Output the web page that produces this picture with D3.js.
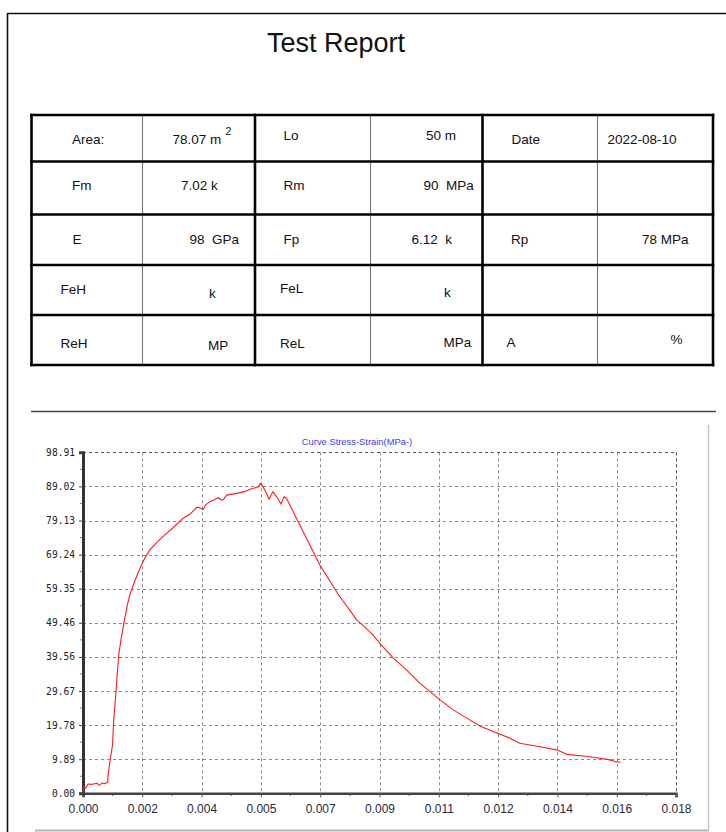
<!DOCTYPE html>
<html>
<head>
<meta charset="utf-8">
<script src="https://cdn.jsdelivr.net/npm/d3@7"></script>
<style>
  html, body { margin: 0; padding: 0; background: #fff; }
  svg { display: block; }
</style>
</head>
<body>
<svg id="page" width="726" height="832"></svg>
<script>
// ---- Report fields (label / value pairs, row by row) ----
const rowLabels1 = ["Area:", "Fm", "E", "FeH", "ReH"];
const rowValues1 = ["78.07 m", "7.02 k", "98  GPa", "k", "MP"];
const rowLabels2 = ["Lo", "Rm", "Fp", "FeL", "ReL"];
const rowValues2 = ["50 m", "90  MPa", "6.12  k", "k", "MPa"];
const rowLabels3 = ["Date", "", "Rp", "", "A"];
const rowValues3 = ["2022-08-10", "", "78 MPa", "", "%"];

// ---- Stress-strain curve ----
const strain = [
  0.00000, 0.00003, 0.00008, 0.00016, 0.00028, 0.00042, 0.00050, 0.00058, 0.00066, 0.00075,
  0.00076, 0.00080, 0.00084, 0.00088, 0.00090, 0.00092, 0.00094, 0.00099, 0.00104, 0.00109,
  0.00117, 0.00127, 0.00135, 0.00143, 0.00158, 0.00173, 0.00188, 0.00203, 0.00224, 0.00244,
  0.00274, 0.00304, 0.00325, 0.00345, 0.00350, 0.00365, 0.00372, 0.00385, 0.00400, 0.00411,
  0.00420, 0.00426, 0.00436, 0.00466, 0.00490, 0.00507, 0.00532, 0.00539, 0.00552, 0.00565,
  0.00576, 0.00588, 0.00601, 0.00610, 0.00618, 0.00719, 0.00774, 0.00831, 0.00876, 0.00901,
  0.00942, 0.00982, 0.01023, 0.01053, 0.01084, 0.01124, 0.01165, 0.01205, 0.01245, 0.01296,
  0.01326, 0.01387, 0.01438, 0.01468, 0.01519, 0.01559, 0.01599, 0.01615, 0.01632
];
const stress = [
  0.0, 1.9, 1.5, 2.7, 2.6, 2.9, 2.3, 3.0, 2.8, 3.2,
  5.0, 8.0, 10.6, 13.0, 14.5, 19.0, 22.2, 28.0, 34.8, 40.6,
  45.5, 50.8, 54.8, 57.8, 61.8, 65.3, 68.3, 70.6, 72.8, 74.6,
  77.1, 79.8, 81.0, 82.9, 83.0, 82.3, 83.6, 84.6, 85.2, 85.8,
  85.0, 85.2, 86.5, 87.0, 87.5, 88.2, 88.9, 89.9, 88.0, 85.3,
  87.5, 86.0, 83.9, 86.0, 85.5, 66.2, 57.8, 50.3, 46.4, 43.5,
  39.2, 35.8, 31.9, 29.5, 27.1, 24.2, 21.8, 19.5, 17.9, 16.0,
  14.5, 13.5, 12.6, 11.3, 10.8, 10.3, 9.7, 9.2, 9.0
];

// ---- Axis ticks ----
const xTickValues = [0, 0.0018, 0.0036, 0.0054, 0.0072, 0.009, 0.0108, 0.0126, 0.0144, 0.0162, 0.018];
const xTickLabels = ["0.000", "0.002", "0.004", "0.005", "0.007", "0.009", "0.011", "0.012", "0.014", "0.016", "0.018"];
const yTickValues = [0, 9.891, 19.782, 29.673, 39.564, 49.455, 59.346, 69.237, 79.128, 89.019, 98.91];
const yTickLabels = ["0.00", "9.89", "19.78", "29.67", "39.56", "49.46", "59.35", "69.24", "79.13", "89.02", "98.91"];

const chartTitle = "Curve Stress-Strain(MPa-)";
const reportTitle = "Test Report";

const svg = d3.select("#page");
const sans = "'Liberation Sans', Arial, sans-serif";

// ---- Page frame and heading ----
svg.append("line").attr("x1", 7.5).attr("x2", 726).attr("y1", 13.5).attr("y2", 13.5)
  .attr("stroke", "#111").attr("stroke-width", 1.6);
svg.append("line").attr("x1", 7.5).attr("x2", 7.5).attr("y1", 13).attr("y2", 832)
  .attr("stroke", "#111").attr("stroke-width", 1.6);
svg.append("text").attr("x", 336).attr("y", 51.5).attr("text-anchor", "middle")
  .attr("font-family", sans).attr("font-size", 27).attr("fill", "#111").text(reportTitle);

// ---- Report table ----
const colEdges = [31.5, 142.5, 255, 370.5, 482.5, 597.5, 713];
const colHeavy = [true, false, true, false, true, false, true];
const rowEdges = [115, 161.5, 214.5, 265, 315, 365];
const table = svg.append("g");
colEdges.forEach((x, i) => {
  table.append("line").attr("x1", x).attr("x2", x)
    .attr("y1", rowEdges[0] - (colHeavy[i] ? 1.25 : 0)).attr("y2", rowEdges[rowEdges.length - 1] + (colHeavy[i] ? 1.25 : 0))
    .attr("stroke", colHeavy[i] ? "#000" : "#777").attr("stroke-width", colHeavy[i] ? 2.6 : 1.1);
});
rowEdges.forEach(y => {
  table.append("line").attr("x1", colEdges[0] - 1.3).attr("x2", colEdges[colEdges.length - 1] + 1.3)
    .attr("y1", y).attr("y2", y).attr("stroke", "#000").attr("stroke-width", 2.6);
});

// text anchors inside each cell: [x, baseline] per row, one entry per column
const cellLayout = [
  [[72, 143.5], [172.5, 143.5], [283.5, 140], [426, 140], [511.5, 143.5], [607.5, 143.5]],
  [[72, 189.5], [181, 189.5], [283.5, 189.5], [423.5, 189.5], [511, 189.5], [607, 189.5]],
  [[72.5, 243.5], [189.5, 243.5], [283.5, 243.5], [411.5, 243.5], [511, 243.5], [642, 243.5]],
  [[60.5, 293.5], [209, 297.5], [280, 293], [444, 297], [511, 293], [607, 293]],
  [[60.5, 347.5], [208, 349.5], [280, 347.5], [443.5, 347], [506.5, 346.5], [670.5, 343.5]]
];
const rowsText = rowLabels1.map((_, r) =>
  [rowLabels1[r], rowValues1[r], rowLabels2[r], rowValues2[r], rowLabels3[r], rowValues3[r]]);
rowsText.forEach((cells, r) => {
  cells.forEach((t, c) => {
    if (!t) return;
    const [x, y] = cellLayout[r][c];
    table.append("text").attr("x", x).attr("y", y)
      .attr("font-family", sans).attr("font-size", 13.5).attr("fill", "#111")
      .style("white-space", "pre").attr("xml:space", "preserve").text(t);
  });
});
// superscript for the area unit
table.append("text").attr("x", 225.5).attr("y", 134.5)
  .attr("font-family", sans).attr("font-size", 10.5).attr("fill", "#111").text("2");

// ---- Chart frame ----
svg.append("line").attr("x1", 31).attr("x2", 716).attr("y1", 411.5).attr("y2", 411.5)
  .attr("stroke", "#444").attr("stroke-width", 1.5);
svg.append("line").attr("x1", 35).attr("x2", 709).attr("y1", 830.5).attr("y2", 830.5)
  .attr("stroke", "#b5b5b5").attr("stroke-width", 2);
svg.append("line").attr("x1", 708.5).attr("x2", 708.5).attr("y1", 425).attr("y2", 831)
  .attr("stroke", "#c5c5c5").attr("stroke-width", 1.5);

// ---- Plot ----
const x = d3.scaleLinear().domain([0, 0.018]).range([83, 676]);
const y = d3.scaleLinear().domain([0, 98.91]).range([793.3, 452.3]);

const grid = svg.append("g").attr("stroke", "#8a8a8a").attr("stroke-width", 1)
  .attr("stroke-dasharray", "3,3").attr("fill", "none");
xTickValues.slice(1).forEach(v => {
  grid.append("line").attr("x1", Math.round(x(v)) + 0.5).attr("x2", Math.round(x(v)) + 0.5)
    .attr("y1", y(98.91)).attr("y2", y(0));
});
yTickValues.slice(1).forEach(v => {
  grid.append("line").attr("x1", x(0)).attr("x2", x(0.018))
    .attr("y1", Math.round(y(v)) + 0.5).attr("y2", Math.round(y(v)) + 0.5);
});
// darker outline on top/right edges
grid.append("line").attr("x1", x(0)).attr("x2", x(0.018)).attr("y1", 452.5).attr("y2", 452.5)
  .attr("stroke", "#555");
grid.append("line").attr("x1", 676.5).attr("x2", 676.5).attr("y1", y(98.91)).attr("y2", y(0))
  .attr("stroke", "#555");

// minor ticks at half intervals
const xMinor = d3.range(0, xTickValues.length - 1).map(i => (xTickValues[i] + xTickValues[i + 1]) / 2);
svg.append("g").selectAll("line").data(xMinor).join("line")
  .attr("x1", d => x(d)).attr("x2", d => x(d)).attr("y1", 793).attr("y2", 796)
  .attr("stroke", "#666").attr("stroke-width", 1);
const yMinor = d3.range(0, yTickValues.length - 1).map(i => (yTickValues[i] + yTickValues[i + 1]) / 2);
svg.append("g").selectAll("line").data(yMinor).join("line")
  .attr("x1", 80).attr("x2", 83).attr("y1", d => y(d)).attr("y2", d => y(d))
  .attr("stroke", "#888").attr("stroke-width", 1);

// x axis
const xAxis = d3.axisBottom(x).tickValues(xTickValues)
  .tickFormat((d, i) => xTickLabels[i]).tickSize(4).tickPadding(7);
const gx = svg.append("g").attr("transform", "translate(0,793.3)").call(xAxis);
gx.select(".domain").attr("stroke", "#444").attr("stroke-width", 2.6);
gx.selectAll(".tick line").attr("stroke", "#555");
gx.selectAll(".tick text").attr("font-family", sans).attr("font-size", 12)
  .attr("fill", "#2a2a3a");

// y axis
const yAxis = d3.axisLeft(y).tickValues(yTickValues)
  .tickFormat((d, i) => yTickLabels[i]).tickSize(4).tickPadding(4);
const gy = svg.append("g").attr("transform", "translate(83,0)").call(yAxis);
gy.select(".domain").attr("stroke", "#333").attr("stroke-width", 3);
gy.selectAll(".tick line").attr("stroke", "#444");
gy.selectAll(".tick text").attr("font-family", "'DejaVu Sans Mono', 'Liberation Mono', monospace")
  .attr("font-size", 9.6).attr("fill", "#222");

// curve
const pts = strain.map((s, i) => [s, stress[i]]);
svg.append("path").datum(pts)
  .attr("d", d3.line().x(d => x(d[0])).y(d => y(d[1])))
  .attr("fill", "none").attr("stroke", "#ff1a1a").attr("stroke-width", 1.1)
  .attr("stroke-linejoin", "round");

// chart title
svg.append("text").attr("x", 357).attr("y", 444.5).attr("text-anchor", "middle")
  .attr("font-family", sans).attr("font-size", 9.4).attr("fill", "#3a3aff").text(chartTitle);
</script>
</body>
</html>
